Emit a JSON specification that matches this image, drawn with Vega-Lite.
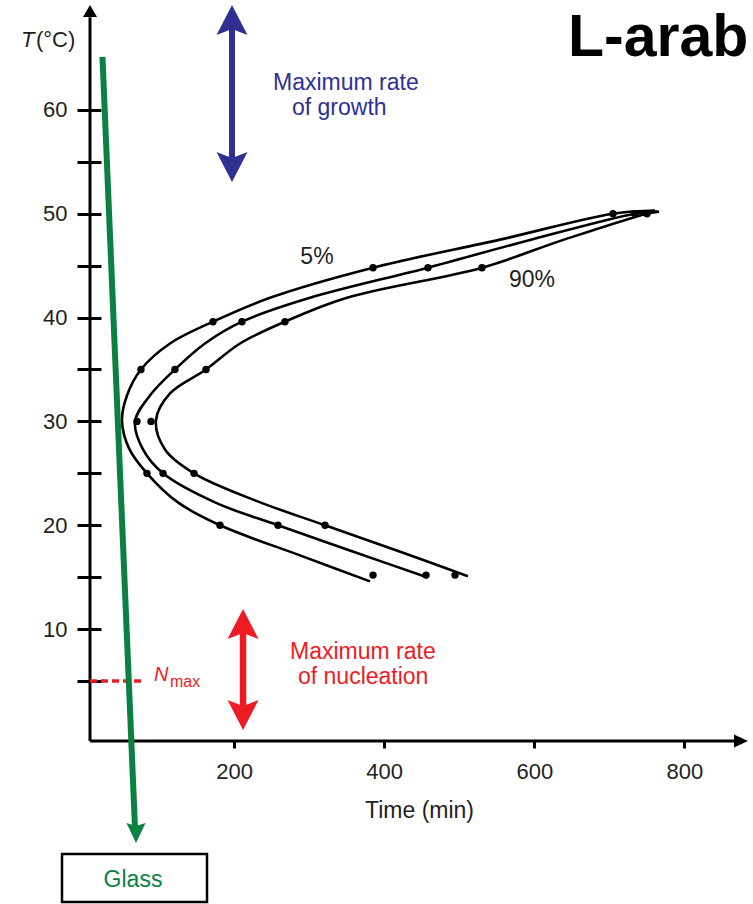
{
  "$schema": "https://vega.github.io/schema/vega-lite/v6.json",
  "width": 658,
  "height": 736,
  "autosize": {"type": "none"},
  "padding": {"left": 90, "top": 5, "right": 5, "bottom": 163},
  "background": "white",
  "config": {"view": {"stroke": null}, "font": "Liberation Sans"},
  "datasets": {
    "curves": [
      {"series": "5%", "i": 1, "t": 760.8, "T": 50.3},
      {"series": "5%", "i": 2, "t": 704.8, "T": 50.0},
      {"series": "5%", "i": 3, "t": 554.3, "T": 47.5},
      {"series": "5%", "i": 4, "t": 385.1, "T": 44.8},
      {"series": "5%", "i": 5, "t": 247.8, "T": 41.9},
      {"series": "5%", "i": 6, "t": 171.9, "T": 39.6},
      {"series": "5%", "i": 7, "t": 114.6, "T": 37.5},
      {"series": "5%", "i": 8, "t": 75.9, "T": 35.0},
      {"series": "5%", "i": 9, "t": 57.3, "T": 32.5},
      {"series": "5%", "i": 10, "t": 50.6, "T": 30.1},
      {"series": "5%", "i": 11, "t": 60.0, "T": 27.4},
      {"series": "5%", "i": 12, "t": 83.9, "T": 25.0},
      {"series": "5%", "i": 13, "t": 125.2, "T": 22.2},
      {"series": "5%", "i": 14, "t": 181.2, "T": 20.0},
      {"series": "5%", "i": 15, "t": 287.8, "T": 17.1},
      {"series": "5%", "i": 16, "t": 381.1, "T": 14.6},
      {"series": "50%", "i": 1, "t": 763.5, "T": 50.2},
      {"series": "50%", "i": 2, "t": 734.2, "T": 50.0},
      {"series": "50%", "i": 3, "t": 595.6, "T": 47.5},
      {"series": "50%", "i": 4, "t": 458.3, "T": 44.8},
      {"series": "50%", "i": 5, "t": 301.1, "T": 41.9},
      {"series": "50%", "i": 6, "t": 210.5, "T": 39.6},
      {"series": "50%", "i": 7, "t": 161.2, "T": 37.5},
      {"series": "50%", "i": 8, "t": 121.2, "T": 35.0},
      {"series": "50%", "i": 9, "t": 87.9, "T": 32.5},
      {"series": "50%", "i": 10, "t": 68.0, "T": 30.0},
      {"series": "50%", "i": 11, "t": 78.6, "T": 27.3},
      {"series": "50%", "i": 12, "t": 105.3, "T": 25.0},
      {"series": "50%", "i": 13, "t": 174.5, "T": 22.2},
      {"series": "50%", "i": 14, "t": 258.5, "T": 20.0},
      {"series": "50%", "i": 15, "t": 357.1, "T": 17.5},
      {"series": "50%", "i": 16, "t": 457.0, "T": 15.0},
      {"series": "90%", "i": 1, "t": 766.2, "T": 50.2},
      {"series": "90%", "i": 2, "t": 750.1, "T": 50.0},
      {"series": "90%", "i": 3, "t": 639.6, "T": 47.5},
      {"series": "90%", "i": 4, "t": 530.3, "T": 44.8},
      {"series": "90%", "i": 5, "t": 350.4, "T": 41.9},
      {"series": "90%", "i": 6, "t": 267.8, "T": 39.6},
      {"series": "90%", "i": 7, "t": 207.9, "T": 37.5},
      {"series": "90%", "i": 8, "t": 162.6, "T": 35.0},
      {"series": "90%", "i": 9, "t": 114.6, "T": 32.7},
      {"series": "90%", "i": 10, "t": 95.9, "T": 30.1},
      {"series": "90%", "i": 11, "t": 107.9, "T": 27.3},
      {"series": "90%", "i": 12, "t": 146.6, "T": 25.0},
      {"series": "90%", "i": 13, "t": 227.8, "T": 22.4},
      {"series": "90%", "i": 14, "t": 321.1, "T": 20.0},
      {"series": "90%", "i": 15, "t": 415.7, "T": 17.6},
      {"series": "90%", "i": 16, "t": 511.6, "T": 15.1}
    ],
    "dots": [
      {"series": "5%", "t": 704.8, "T": 50.0},
      {"series": "5%", "t": 385.1, "T": 44.8},
      {"series": "5%", "t": 171.9, "T": 39.6},
      {"series": "5%", "t": 75.9, "T": 35.0},
      {"series": "5%", "t": 83.9, "T": 25.0},
      {"series": "5%", "t": 181.2, "T": 20.0},
      {"series": "5%", "t": 385.1, "T": 15.2},
      {"series": "50%", "t": 734.2, "T": 50.0},
      {"series": "50%", "t": 458.3, "T": 44.8},
      {"series": "50%", "t": 210.5, "T": 39.6},
      {"series": "50%", "t": 121.2, "T": 35.0},
      {"series": "50%", "t": 70.6, "T": 30.0},
      {"series": "50%", "t": 105.3, "T": 25.0},
      {"series": "50%", "t": 258.5, "T": 20.0},
      {"series": "50%", "t": 455.7, "T": 15.2},
      {"series": "90%", "t": 750.1, "T": 50.0},
      {"series": "90%", "t": 530.3, "T": 44.8},
      {"series": "90%", "t": 267.8, "T": 39.6},
      {"series": "90%", "t": 162.6, "T": 35.0},
      {"series": "90%", "t": 89.3, "T": 30.0},
      {"series": "90%", "t": 146.6, "T": 25.0},
      {"series": "90%", "t": 321.1, "T": 20.0},
      {"series": "90%", "t": 494.3, "T": 15.2}
    ],
    "axes": [
      {"part": "yaxis", "t": 8, "T": -0.77, "t2": 8, "T2": 68.9},
      {"part": "xaxis", "t": 8, "T": -0.77, "t2": 875, "T2": -0.77}
    ],
    "shafts": [
      {"kind": "growth", "t": 197.2, "T": 68.17, "t2": 197.2, "T2": 54.69},
      {"kind": "nucleation", "t": 211.9, "T": 9.92, "t2": 211.9, "T2": 2.31},
      {"kind": "glass", "t": 24.6, "T": 65.1, "t2": 67.95, "T2": -9.15},
      {"kind": "nmax", "t": 8, "T": 5, "t2": 81.3, "T2": 5}
    ],
    "heads": [
      {"kind": "axis", "dir": "axisUp", "t": 8, "T": 70.09},
      {"kind": "axis", "dir": "axisRight", "t": 884.7, "T": -0.77},
      {"kind": "growth", "dir": "bigUp", "t": 197.2, "T": 70.1},
      {"kind": "growth", "dir": "bigDown", "t": 197.2, "T": 53.05},
      {"kind": "nucleation", "dir": "bigUp", "t": 211.9, "T": 11.94},
      {"kind": "nucleation", "dir": "bigDown", "t": 211.9, "T": 0.29},
      {"kind": "glass", "dir": "glassDown", "t": 69.3, "T": -10.59}
    ],
    "box": [
      {"t": -29.3, "T": -11.65, "t2": 163.9, "T2": -16.27}
    ],
    "labels": [
      {"style": "growth", "text": "Maximum rate", "t": 251.8, "T": 62.6},
      {"style": "growth", "text": "of growth", "t": 277.1, "T": 60.2},
      {"style": "nucleation", "text": "Maximum rate", "t": 274.5, "T": 7.8},
      {"style": "nucleation", "text": "of nucleation", "t": 285.1, "T": 5.4},
      {"style": "pct", "text": "5%", "t": 310.4, "T": 45.8},
      {"style": "pct", "text": "90%", "t": 596.9, "T": 43.6},
      {"style": "axisT", "text": "T", "t": -84.0, "T": 66.7},
      {"style": "axisUnit", "text": "(°C)", "t": -64.0, "T": 66.7},
      {"style": "N", "text": "N", "t": 93.3, "T": 5.6},
      {"style": "max", "text": "max", "t": 114.6, "T": 4.9},
      {"style": "glass", "text": "Glass", "t": 65.3, "T": -14.15},
      {"style": "title", "text": "L-arab", "t": 644.9, "T": 65.18}
    ]
  },
  "encoding": {
    "x": {
      "field": "t", "type": "quantitative",
      "scale": {"domain": [8, 884.7], "nice": false, "zero": false},
      "axis": {
        "values": [200, 400, 600, 800], "domain": false, "grid": false,
        "tickSize": 7, "tickWidth": 3, "tickColor": "#000",
        "labelPadding": 13, "labelFontSize": 22, "labelColor": "#231f20",
        "title": "Time (min)", "titleFontSize": 23, "titleFontWeight": "normal",
        "titleColor": "#231f20", "titlePadding": 17
      }
    },
    "y": {
      "field": "T", "type": "quantitative",
      "scale": {"domain": [-0.77, 70.09], "nice": false, "zero": false},
      "axis": {
        "values": [5, 10, 15, 20, 25, 30, 35, 40, 45, 50, 55, 60],
        "labelExpr": "datum.value % 10 === 0 ? datum.label : ''",
        "domain": false, "grid": false, "offset": -11,
        "tickSize": 24, "tickWidth": 3, "tickColor": "#000",
        "labelPadding": 10, "labelFontSize": 22, "labelColor": "#231f20",
        "title": null
      }
    }
  },
  "layer": [
    {
      "data": {"name": "axes"},
      "mark": {"type": "rule", "color": "#000", "strokeWidth": 3},
      "encoding": {"x2": {"field": "t2"}, "y2": {"field": "T2"}}
    },
    {
      "data": {"name": "curves"},
      "mark": {"type": "line", "interpolate": "catmull-rom", "color": "#000", "strokeWidth": 2.6},
      "encoding": {"detail": {"field": "series"}, "order": {"field": "i", "type": "quantitative"}}
    },
    {
      "data": {"name": "dots"},
      "mark": {"type": "circle", "color": "#000", "size": 55, "opacity": 1}
    },
    {
      "data": {"name": "shafts"},
      "transform": [{"filter": "datum.kind === 'growth'"}],
      "mark": {"type": "rule", "color": "#2e3192", "strokeWidth": 6},
      "encoding": {"x2": {"field": "t2"}, "y2": {"field": "T2"}}
    },
    {
      "data": {"name": "shafts"},
      "transform": [{"filter": "datum.kind === 'nucleation'"}],
      "mark": {"type": "rule", "color": "#ed1c24", "strokeWidth": 6.5},
      "encoding": {"x2": {"field": "t2"}, "y2": {"field": "T2"}}
    },
    {
      "data": {"name": "shafts"},
      "transform": [{"filter": "datum.kind === 'nmax'"}],
      "mark": {"type": "rule", "color": "#ed1c24", "strokeWidth": 3.5, "strokeDash": [7, 4]},
      "encoding": {"x2": {"field": "t2"}, "y2": {"field": "T2"}}
    },
    {
      "data": {"name": "shafts"},
      "transform": [{"filter": "datum.kind === 'glass'"}],
      "mark": {"type": "rule", "color": "#0b8043", "strokeWidth": 6},
      "encoding": {"x2": {"field": "t2"}, "y2": {"field": "T2"}}
    },
    {
      "data": {"name": "heads"},
      "mark": {"type": "point", "filled": true, "size": 4, "opacity": 1, "strokeWidth": 0},
      "encoding": {
        "shape": {
          "field": "dir", "type": "nominal", "legend": null,
          "scale": {
            "domain": ["axisUp", "axisRight", "bigUp", "bigDown", "glassDown"],
            "range": [
              "M0,0L7,12L-7,12Z",
              "M0,0L-14,-6.5L-14,6.5Z",
              "M0,0L15.5,30L0,24L-15.5,30Z",
              "M0,0L15.5,-30L0,-24L-15.5,-30Z",
              "M0,0L9.5,-20L0,-17L-9.5,-20Z"
            ]
          }
        },
        "color": {
          "field": "kind", "type": "nominal", "legend": null,
          "scale": {
            "domain": ["axis", "growth", "nucleation", "glass"],
            "range": ["#000000", "#2e3192", "#ed1c24", "#0b8043"]
          }
        }
      }
    },
    {
      "data": {"name": "box"},
      "mark": {"type": "rect", "fill": "white", "stroke": "#000", "strokeWidth": 2.5},
      "encoding": {"x2": {"field": "t2"}, "y2": {"field": "T2"}}
    },
    {
      "data": {"name": "labels"},
      "transform": [{"filter": "datum.style === 'growth'"}],
      "mark": {"type": "text", "align": "left", "baseline": "middle", "fontSize": 23, "color": "#2e3192"},
      "encoding": {"text": {"field": "text"}}
    },
    {
      "data": {"name": "labels"},
      "transform": [{"filter": "datum.style === 'nucleation'"}],
      "mark": {"type": "text", "align": "left", "baseline": "middle", "fontSize": 23, "color": "#ed1c24"},
      "encoding": {"text": {"field": "text"}}
    },
    {
      "data": {"name": "labels"},
      "transform": [{"filter": "datum.style === 'pct'"}],
      "mark": {"type": "text", "align": "center", "baseline": "middle", "fontSize": 23, "color": "#231f20"},
      "encoding": {"text": {"field": "text"}}
    },
    {
      "data": {"name": "labels"},
      "transform": [{"filter": "datum.style === 'axisT'"}],
      "mark": {"type": "text", "align": "left", "baseline": "middle", "fontSize": 22, "fontStyle": "italic", "color": "#231f20"},
      "encoding": {"text": {"field": "text"}}
    },
    {
      "data": {"name": "labels"},
      "transform": [{"filter": "datum.style === 'axisUnit'"}],
      "mark": {"type": "text", "align": "left", "baseline": "middle", "fontSize": 22, "color": "#231f20"},
      "encoding": {"text": {"field": "text"}}
    },
    {
      "data": {"name": "labels"},
      "transform": [{"filter": "datum.style === 'N'"}],
      "mark": {"type": "text", "align": "left", "baseline": "middle", "fontSize": 20, "fontStyle": "italic", "color": "#ed1c24"},
      "encoding": {"text": {"field": "text"}}
    },
    {
      "data": {"name": "labels"},
      "transform": [{"filter": "datum.style === 'max'"}],
      "mark": {"type": "text", "align": "left", "baseline": "middle", "fontSize": 16, "color": "#ed1c24"},
      "encoding": {"text": {"field": "text"}}
    },
    {
      "data": {"name": "labels"},
      "transform": [{"filter": "datum.style === 'glass'"}],
      "mark": {"type": "text", "align": "center", "baseline": "middle", "fontSize": 23, "color": "#0b8043"},
      "encoding": {"text": {"field": "text"}}
    },
    {
      "data": {"name": "labels"},
      "transform": [{"filter": "datum.style === 'title'"}],
      "mark": {"type": "text", "align": "left", "baseline": "alphabetic", "fontSize": 59, "font": "Liberation Sans", "fontWeight": "bold", "color": "#000"},
      "encoding": {"text": {"field": "text"}}
    }
  ]
}
